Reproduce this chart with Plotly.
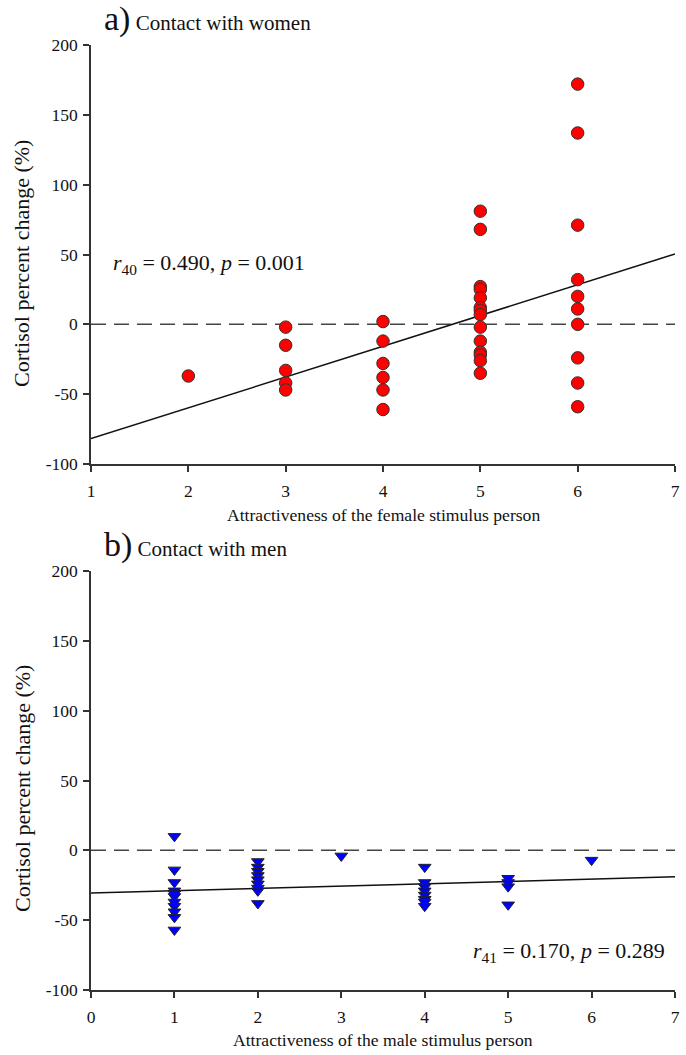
import plotly.graph_objects as go

W, H = 686, 1055
FONT = "Liberation Serif, Times New Roman, serif"

# ---------------- data: panel a (contact with women) ----------------
women_x = [2,
           3, 3, 3, 3, 3,
           4, 4, 4, 4, 4, 4,
           5, 5, 5, 5, 5, 5, 5, 5, 5, 5, 5, 5, 5, 5,
           6, 6, 6, 6, 6, 6, 6, 6, 6, 6]
women_y = [-37,
           -2, -15, -33, -42, -47,
           2, -12, -28, -38, -47, -61,
           81, 68, 27, 25, 19, 12, 10, 7, -2, -12, -20, -22, -26, -35,
           172, 137, 71, 32, 20, 11, 0, -24, -42, -59]
women_fit_x = [1, 7]
women_fit_y = [-81.8, 50.4]
women_ref_x = [1, 7]
women_ref_y = [0, 0]
women_xticks = [1, 2, 3, 4, 5, 6, 7]

# ---------------- data: panel b (contact with men) ----------------
men_x = [1, 1, 1, 1, 1, 1, 1, 1, 1, 1, 1,
         2, 2, 2, 2, 2, 2, 2, 2, 2,
         3,
         4, 4, 4, 4, 4, 4, 4, 4,
         5, 5, 5, 5,
         6]
men_y = [10, -14, -23, -29, -31, -33, -37, -40, -44, -48, -57,
         -8, -12, -15, -18, -21, -24, -27, -29, -38,
         -4,
         -12, -23, -26, -29, -32, -35, -37, -40,
         -20, -23, -26, -39,
         -7]
men_fit_x = [0, 7]
men_fit_y = [-30.5, -19.0]
men_ref_x = [0, 7]
men_ref_y = [0, 0]
men_xticks = [0, 1, 2, 3, 4, 5, 6, 7]

y_tickvals = [-100, -50, 0, 50, 100, 150, 200]
y_ticktext = ["-100", "-50", "0", "50", "100", "150", "200"]

# ---------------- layout geometry (pixels) ----------------
def px_x(p):
    return p / W

def px_y(p):
    return 1 - p / H

x_dom = [px_x(91), px_x(675)]
top_dom = [px_y(464), px_y(45)]
bot_dom = [px_y(990), px_y(571)]

fig = go.Figure()

# Panel a
fig.add_trace(go.Scatter(x=women_ref_x, y=women_ref_y, mode="lines",
                         line=dict(color="#444444", width=1.5, dash="15px,8px"),
                         xaxis="x", yaxis="y", hoverinfo="skip"))
fig.add_trace(go.Scatter(x=women_fit_x, y=women_fit_y, mode="lines",
                         line=dict(color="#111111", width=1.5),
                         xaxis="x", yaxis="y", hoverinfo="skip"))
fig.add_trace(go.Scatter(x=women_x, y=women_y, mode="markers",
                         marker=dict(symbol="circle", size=12.5, color="#ff0000",
                                     line=dict(color="#333333", width=1)),
                         xaxis="x", yaxis="y", cliponaxis=False))

# Panel b
fig.add_trace(go.Scatter(x=men_ref_x, y=men_ref_y, mode="lines",
                         line=dict(color="#444444", width=1.5, dash="15px,8px"),
                         xaxis="x2", yaxis="y2", hoverinfo="skip"))
fig.add_trace(go.Scatter(x=men_fit_x, y=men_fit_y, mode="lines",
                         line=dict(color="#111111", width=1.5),
                         xaxis="x2", yaxis="y2", hoverinfo="skip"))
fig.add_trace(go.Scatter(x=men_x, y=men_y, mode="markers",
                         marker=dict(symbol="triangle-down", size=11, color="#0000ff",
                                     line=dict(color="#222222", width=1)),
                         xaxis="x2", yaxis="y2", cliponaxis=False))

axis_common = dict(showline=True, linecolor="#333333", linewidth=1.5,
                   ticks="outside", ticklen=6, tickwidth=1.5, tickcolor="#333333",
                   showgrid=False, zeroline=False, automargin=False,
                   tickfont=dict(family=FONT, size=17.5, color="#111111"))

fig.update_layout(
    width=W, height=H,
    margin=dict(l=0, r=0, t=0, b=0, pad=0),
    paper_bgcolor="white", plot_bgcolor="white",
    showlegend=False,
    xaxis=dict(domain=x_dom, range=[1, 7], tickvals=women_xticks,
               anchor="y", ticklabelstandoff=4, **axis_common),
    yaxis=dict(domain=top_dom, range=[-100, 200], tickvals=y_tickvals,
               ticktext=y_ticktext, anchor="x", ticklabelstandoff=2, **axis_common),
    xaxis2=dict(domain=x_dom, range=[0, 7], tickvals=men_xticks,
                anchor="y2", ticklabelstandoff=4, **axis_common),
    yaxis2=dict(domain=bot_dom, range=[-100, 200], tickvals=y_tickvals,
                ticktext=y_ticktext, anchor="x2", ticklabelstandoff=2, **axis_common),
)

title_font = dict(family=FONT, size=21, color="#111111")
ytitle_font = dict(family=FONT, size=22, color="#111111")
xtitle_font = dict(family=FONT, size=17.6, color="#111111")
stat_font = dict(family=FONT, size=22, color="#111111")

annotations = [
    # panel titles
    dict(xref="paper", yref="paper", x=px_x(102), y=px_y(19), xanchor="left", yanchor="middle",
         text="<span style='font-size:34px'>a)</span> Contact with women",
         font=title_font, showarrow=False),
    dict(xref="paper", yref="paper", x=px_x(102), y=px_y(545), xanchor="left", yanchor="middle",
         text="<span style='font-size:34px'>b)</span> Contact with men",
         font=title_font, showarrow=False),
    # y-axis titles
    dict(xref="paper", yref="paper", x=px_x(22), y=px_y(264), xanchor="center", yanchor="middle",
         text="Cortisol percent change (%)", textangle=-90, font=ytitle_font, showarrow=False),
    dict(xref="paper", yref="paper", x=px_x(22), y=px_y(789), xanchor="center", yanchor="middle",
         text="Cortisol percent change (%)", textangle=-90, font=ytitle_font, showarrow=False),
    # x-axis titles
    dict(xref="paper", yref="paper", x=px_x(383), y=px_y(515), xanchor="center", yanchor="middle",
         text="Attractiveness of the female stimulus person", font=xtitle_font, showarrow=False),
    dict(xref="paper", yref="paper", x=px_x(383), y=px_y(1040), xanchor="center", yanchor="middle",
         text="Attractiveness of the male stimulus person", font=xtitle_font, showarrow=False),
    # statistics
    dict(xref="x", yref="y", x=1.21, y=43, xanchor="left", yanchor="middle",
         text="<i>r</i><sub>40</sub> = 0.490, <i>p</i> = 0.001",
         font=stat_font, showarrow=False),
    dict(xref="x2", yref="y2", x=6.91, y=-73, xanchor="right", yanchor="middle",
         text="<i>r</i><sub>41</sub> = 0.170, <i>p</i> = 0.289",
         font=stat_font, showarrow=False),
]
fig.update_layout(annotations=annotations)

fig.write_html("out.html", config={"displayModeBar": False},
               post_script="document.body.style.margin='0';")
